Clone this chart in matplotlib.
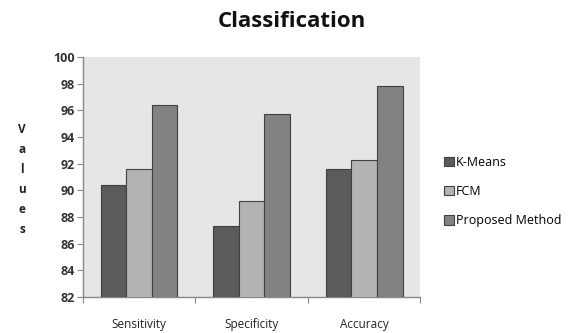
import numpy as np
from matplotlib import pyplot as plt

categories = ["Sensitivity", "Specificity", "Accuracy"]
series_names = ["K-Means", "FCM", "Proposed Method"]
kmeans = [90.4, 87.3, 91.6]
fcm = [91.6, 89.2, 92.3]
proposed = [96.4, 95.7, 97.8]
y_ticks = [82, 84, 86, 88, 90, 92, 94, 96, 98, 100]

plt.rcParams['font.family'] = ['Open Sans', 'DejaVu Sans']

fig = plt.figure(figsize=(5.84, 3.33), dpi=100)
ax = fig.add_axes([0.142, 0.108, 0.578, 0.721])
ax.set_facecolor('#e6e6e6')

x = np.arange(len(categories))
w = 0.227
colors = ['#5b5b5b', '#b3b3b3', '#828282']
for k, (vals, name) in enumerate(zip([kmeans, fcm, proposed], series_names)):
    ax.bar(x + (k - 1) * w, vals, width=w, color=colors[k], edgecolor='#404040',
           linewidth=0.8, label=name, zorder=3)

ax.set_xlim(-0.5, len(categories) - 0.5)
ax.set_ylim(82, 100)
ax.set_yticks(y_ticks)
ax.set_yticklabels([str(t) for t in y_ticks], fontsize=9, fontweight='bold', color='#333333')

# category labels centered, tick marks at boundaries
ax.set_xticks(np.arange(len(categories) + 1) - 0.5)
ax.set_xticklabels([])
ax.set_xticks(x, minor=True)
ax.set_xticklabels(categories, minor=True, fontsize=8.5, color='#222222')
ax.tick_params(axis='x', which='minor', length=0, pad=15)
ax.tick_params(axis='x', which='major', length=4, color='#888888', direction='out')
ax.tick_params(axis='y', length=4, color='#888888', direction='out', pad=2)

for s in ['top', 'right']:
    ax.spines[s].set_visible(False)
for s in ['left', 'bottom']:
    ax.spines[s].set_color('#888888')
    ax.spines[s].set_linewidth(1.0)

fig.text(0.5, 0.935, "Classification", ha='center', va='center',
         fontsize=16, fontweight='bold', color='#111111')
fig.text(0.038, 0.46, "V\na\nl\nu\ne\ns", ha='center', va='center',
         fontsize=8.5, fontweight='bold', linespacing=1.7, color='#222222')

ax.legend(loc='center left', bbox_to_anchor=(1.035, 0.44), frameon=False,
          fontsize=9, handlelength=0.8, handleheight=0.8, handletextpad=0.2,
          labelspacing=1.3)

fig.savefig('out.png', dpi=100)
